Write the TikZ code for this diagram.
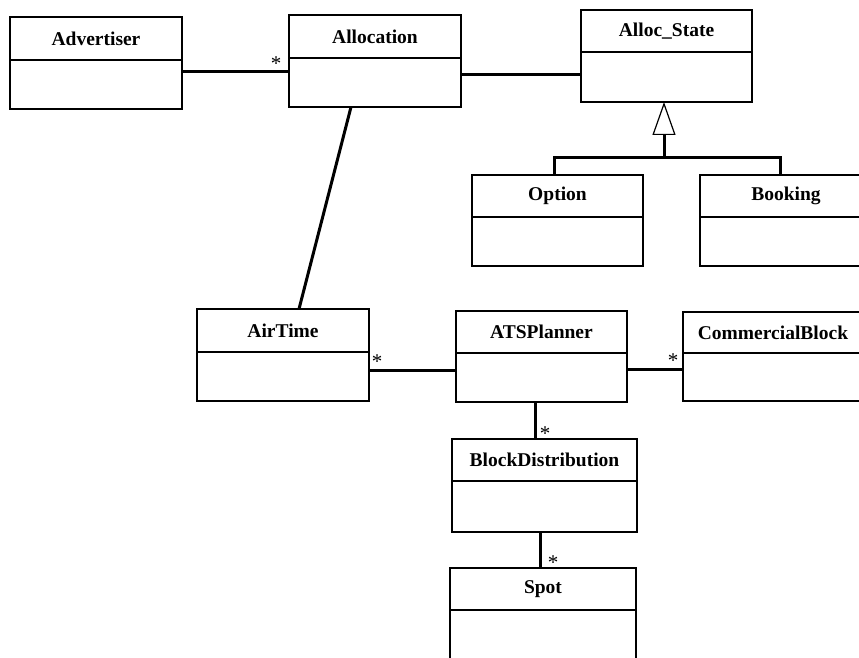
\documentclass[tikz,border=0pt]{standalone}
\usepackage{fontspec}
\setmainfont{Liberation Serif}
\usetikzlibrary{arrows.meta, positioning}

\begin{document}
\begin{tikzpicture}[x=1pt, y=-1pt,
    head/.style={draw, line width=1.4pt, outer sep=0pt, inner sep=0pt, anchor=north west,
        minimum width=172pt, minimum height=43pt, font=\fontsize{19.5}{22}\selectfont\bfseries},
    body/.style={draw, line width=1.4pt, outer sep=0pt, inner sep=0pt,
        minimum width=172pt, minimum height=49pt, below=0pt of #1},
    assoc/.style={line width=3pt},
    mult/.style={inner sep=0pt, font=\fontsize{21}{21}\selectfont}]
    \useasboundingbox (0,0) rectangle (859,658);
    \clip (0,0) rectangle (859,658);

    % classes
    \node[head] (adv) at (10,17) {Advertiser};
    \node[body=adv] (adv-b) {};
    \node[head] (alloc) at (289,15) {Allocation};
    \node[body=alloc] (alloc-b) {};
    \node[head, minimum width=171pt, minimum height=42pt] (state) at (581,10) {Alloc\_State};
    \node[body=state, minimum width=171pt, minimum height=50pt] (state-b) {};
    \node[head, minimum width=171pt, minimum height=42pt] (opt) at (472,175) {Option};
    \node[body=opt, minimum width=171pt] (opt-b) {};
    \node[head, minimum height=42pt] (book) at (700,175) {Booking};
    \node[body=book] (book-b) {};
    \node[head] (air) at (197,309) {AirTime};
    \node[body=air] (air-b) {};
    \node[head, minimum width=171pt, minimum height=42pt] (plan) at (456,311) {ATSPlanner};
    \node[body=plan, minimum width=171pt] (plan-b) {};
    \node[head, minimum width=180pt, minimum height=41pt] (cb) at (683,312) {CommercialBlock};
    \node[body=cb, minimum width=180pt, minimum height=48pt] (cb-b) {};
    \node[head, minimum width=185pt, minimum height=42pt] (bd) at (452,439) {BlockDistribution};
    \node[body=bd, minimum width=185pt, minimum height=51pt] (bd-b) {};
    \node[head, minimum width=186pt, minimum height=42pt] (spot) at (450,568) {Spot};
    \node[body=spot, minimum width=186pt, minimum height=54pt] (spot-b) {};

    % associations
    \draw[assoc] (adv-b.east |- 0,72) -- node[mult, at end, xshift=-13pt, yshift=8pt] {*} (alloc-b.west |- 0,72);
    \draw[assoc] (alloc-b.east |- 0,75) -- (state-b.west |- 0,75);
    \draw[assoc] ([xshift=-24pt]alloc-b.south) -- ([xshift=16pt]air.north);
    \draw[assoc] (air-b.east |- 0,370) -- node[mult, at start, xshift=8pt, yshift=8pt] {*} (plan-b.west |- 0,370);
    \draw[assoc] (plan-b.east |- 0,369) -- node[mult, at end, xshift=-10pt, yshift=8pt] {*} (cb-b.west |- 0,369);
    \draw[assoc] (plan-b.south -| 535,0) -- node[mult, at end, xshift=10pt, yshift=5pt] {*} (bd.north -| 535,0);
    \draw[assoc] (bd-b.south -| 540,0) -- node[mult, at end, xshift=13pt, yshift=5pt] {*} (spot.north -| 540,0);

    % generalisation
    \coordinate (gen) at (664,157);
    \draw[assoc, line cap=butt] (opt.north -| 554,0) |- (gen) -| (book.north -| 780,0);
    \draw[assoc, -{Triangle[open, length=33pt, width=23pt, line width=1.2pt]}] (gen) -- (gen |- state-b.south);
\end{tikzpicture}
\end{document}
